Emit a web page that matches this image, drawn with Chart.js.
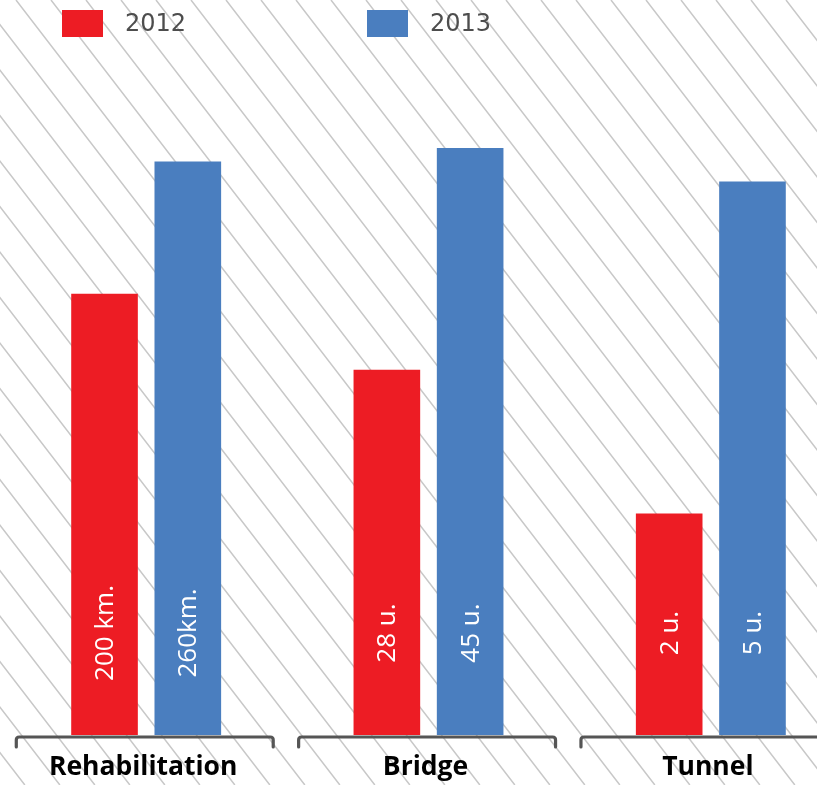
<!DOCTYPE html>
<html>
<head>
<meta charset="utf-8">
<script src="https://cdn.jsdelivr.net/npm/chart.js@4.4.1/dist/chart.umd.min.js"></script>
<style>
  html, body { margin: 0; padding: 0; background: #fff; overflow: hidden; width: 817px; height: 785px; }
  #wrap { position: absolute; left: 0; top: 0; width: 852px; height: 785px; }
</style>
</head>
<body>
<div id="wrap"><canvas id="c" width="852" height="785"></canvas></div>
<script>
// ---- data ----
const categories = ['Rehabilitation', 'Bridge', 'Tunnel'];
const seriesNames = ['2012', '2013'];
const values2012 = [200, 28, 2];
const values2013 = [260, 45, 5];
const labels2012 = ['200 km.', '28 u.', '2 u.'];
const labels2013 = ['260km.', '45 u.', '5 u.'];
// each group has its own unit; value at the top of the plot area per group
const groupAxisMax = [272, 46, 5.42];

const colors = ['#ED1C24', '#4A7EBF'];

const norm = (vals) => vals.map((v, i) => v / groupAxisMax[i] * 100);

const hatchPlugin = {
  id: 'hatch',
  beforeDraw(chart) {
    const ctx = chart.ctx;
    const W = chart.width, H = chart.height;
    ctx.save();
    ctx.fillStyle = '#fff';
    ctx.fillRect(0, 0, W, H);
    ctx.strokeStyle = '#c8c8c8';
    ctx.lineWidth = 1.5;
    const slope = 1.3, spacing = 35, phase = 16;
    const shift = H / slope;
    ctx.beginPath();
    for (let x0 = phase - Math.ceil(shift / spacing) * spacing; x0 < W + spacing; x0 += spacing) {
      ctx.moveTo(x0, 0);
      ctx.lineTo(x0 + shift, H);
    }
    ctx.stroke();
    ctx.restore();
  }
};

const decorPlugin = {
  id: 'decor',
  afterDatasetsDraw(chart) {
    const ctx = chart.ctx;
    const xs = chart.scales.x, ys = chart.scales.y;
    const base = ys.getPixelForValue(0);
    const catW = (xs.right - xs.left) / categories.length;
    ctx.save();
    // value labels inside bars
    const allLabels = [labels2012, labels2013];
    chart.data.datasets.forEach((ds, di) => {
      const meta = chart.getDatasetMeta(di);
      meta.data.forEach((bar, i) => {
        ctx.save();
        ctx.translate(bar.x, base - 102);
        ctx.rotate(-Math.PI / 2);
        ctx.fillStyle = '#ffffff';
        ctx.font = '26px "Open Sans"';
        ctx.textAlign = 'center';
        ctx.textBaseline = 'middle';
        ctx.fillText(allLabels[di][i], 0, 1);
        ctx.restore();
      });
    });
    // brackets + category labels
    categories.forEach((cat, i) => {
      const cx = xs.getPixelForValue(i);
      const l = cx - catW * 0.46, r = cx + catW * 0.45;
      const y = base + 2;
      ctx.strokeStyle = '#555555';
      ctx.lineWidth = 3.2;
      ctx.lineJoin = 'round';
      ctx.lineCap = 'round';
      ctx.beginPath();
      ctx.moveTo(l, y + 10);
      ctx.lineTo(l, y + 3);
      ctx.quadraticCurveTo(l, y, l + 3, y);
      ctx.lineTo(r - 3, y);
      ctx.quadraticCurveTo(r, y, r, y + 3);
      ctx.lineTo(r, y + 10);
      ctx.stroke();
      ctx.fillStyle = '#000000';
      ctx.font = 'bold 26.5px "Open Sans"';
      ctx.textAlign = 'center';
      ctx.textBaseline = 'alphabetic';
      ctx.fillText(cat, cx - 3, base + 40);
    });
    // legend
    chart.data.datasets.forEach((ds, di) => {
      const bx = 62 + di * 305;
      ctx.fillStyle = ds.backgroundColor;
      ctx.fillRect(bx, 10, 41, 27);
      ctx.fillStyle = '#4d4d4d';
      ctx.font = '24px "DejaVu Sans"';
      ctx.textAlign = 'left';
      ctx.textBaseline = 'middle';
      ctx.fillText(ds.label, bx + 63, 25);
    });
    ctx.restore();
  }
};

new Chart(document.getElementById('c'), {
  type: 'bar',
  data: {
    labels: categories,
    datasets: [
      { label: seriesNames[0], data: norm(values2012), backgroundColor: colors[0] },
      { label: seriesNames[1], data: norm(values2013), backgroundColor: colors[1] }
    ]
  },
  options: {
    responsive: false,
    animation: false,
    devicePixelRatio: 1,
    categoryPercentage: 0.59,
    barPercentage: 0.8,
    layout: { padding: { left: 5, right: 0, top: 135, bottom: 50 } },
    plugins: { legend: { display: false }, tooltip: { enabled: false } },
    scales: {
      x: { display: false },
      y: { display: false, min: 0, max: 100 }
    }
  },
  plugins: [hatchPlugin, decorPlugin]
});
</script>
</body>
</html>
